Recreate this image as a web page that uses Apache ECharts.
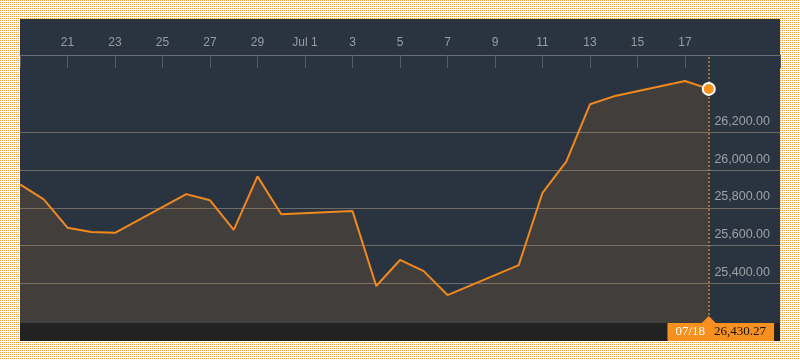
<!DOCTYPE html>
<html>
<head>
<meta charset="utf-8">
<script src="https://cdn.jsdelivr.net/npm/echarts@6/dist/echarts.min.js"></script>
<style>
  html, body { margin: 0; padding: 0; }
  body {
    width: 800px; height: 360px; overflow: hidden;
    background-color: #ffffff;
    background-image: url("data:image/svg+xml,%3Csvg xmlns='http://www.w3.org/2000/svg' width='2' height='2' shape-rendering='crispEdges'%3E%3Crect width='2' height='2' fill='%23ffffff'/%3E%3Crect x='0' y='0' width='1' height='1' fill='%23f39c3b'/%3E%3C/svg%3E");
    background-size: 2px 2px;
    background-repeat: repeat;
    image-rendering: pixelated;
  }
  #chart { width: 800px; height: 360px; }
</style>
</head>
<body>
<div id="chart"></div>
<script>
// ---- data ----
const year = 2017;
const dates = ['06/19','06/20','06/21','06/22','06/23','06/26','06/27','06/28','06/29','06/30',
               '07/03','07/04','07/05','07/06','07/07','07/10','07/11','07/12','07/13','07/14',
               '07/17','07/18'];
const values = [25925, 25845, 25695, 25672, 25668, 25873, 25840, 25683, 25967, 25766,
                25783, 25386, 25524, 25465, 25338, 25497, 25880, 26045, 26349, 26391,
                26472, 26430.27];
const tickDates = ['06/21','06/23','06/25','06/27','06/29','07/01','07/03','07/05','07/07',
                   '07/09','07/11','07/13','07/15','07/17'];
const tickLabels = ['21','23','25','27','29','Jul 1','3','5','7','9','11','13','15','17'];
const xRange = ['06/19', '07/21'];
const yTicks = [25400, 25600, 25800, 26000, 26200];
const yRange = [25190, 26610];

// ---- helpers ----
function dayIndex(s) {
  const [m, d] = s.split('/').map(Number);
  const [m0, d0] = xRange[0].split('/').map(Number);
  return Math.round((Date.UTC(year, m - 1, d) - Date.UTC(year, m0 - 1, d0)) / 86400000);
}
const xMin = dayIndex(xRange[0]);
const xMax = dayIndex(xRange[1]);
const tickX = tickDates.map(dayIndex);
const labelMap = {};
tickX.forEach((x, i) => { labelMap[x] = tickLabels[i]; });
const lastIdx = values.length - 1;
const lastX = dayIndex(dates[lastIdx]);
const lastVal = values[lastIdx];

const seriesData = dates.map((d, i) => {
  const item = { value: [dayIndex(d), values[i]] };
  if (i === lastIdx) {
    item.symbol = 'circle';
    item.symbolSize = 12;
    item.itemStyle = { color: '#f7931e', borderColor: '#ffffff', borderWidth: 2 };
  }
  return item;
});

const fmtVal = v => v.toLocaleString('en-US', { minimumFractionDigits: 2, maximumFractionDigits: 2 });

const chart = echarts.init(document.getElementById('chart'), null, { renderer: 'canvas' });
chart.setOption({
  animation: false,
  backgroundColor: 'transparent',
  graphic: [
    { type: 'rect', z: -10, silent: true, shape: { x: 20, y: 19, width: 760, height: 322 }, style: { fill: '#2a3440' } },
    { type: 'rect', z: -10, silent: true, shape: { x: 20, y: 323, width: 760, height: 18 }, style: { fill: '#222222' } }
  ],
  grid: { left: 20, right: 20, top: 55, bottom: 37, containLabel: false },
  xAxis: {
    type: 'value',
    position: 'top',
    min: xMin, max: xMax,
    axisLine: { show: true, lineStyle: { color: '#6b7077', width: 1 } },
    axisTick: {
      show: true, inside: true, length: 13,
      customValues: [xMin].concat(tickX, [xMax]),
      lineStyle: { color: '#565c63', width: 1 }
    },
    axisLabel: {
      show: true,
      customValues: tickX,
      margin: 6,
      color: '#979ca1',
      fontSize: 12,
      fontFamily: 'Liberation Sans, Arial, sans-serif',
      formatter: v => labelMap[Math.round(v)] || ''
    },
    splitLine: { show: false }
  },
  yAxis: {
    type: 'value',
    position: 'right',
    min: yRange[0], max: yRange[1],
    axisLine: { show: false },
    axisTick: { show: false, customValues: yTicks },
    axisLabel: {
      show: true, inside: true,
      customValues: yTicks,
      margin: 10,
      color: '#9da1a6',
      fontSize: 12.5,
      fontFamily: 'Liberation Sans, Arial, sans-serif',
      verticalAlign: 'bottom',
      lineHeight: 14,
      padding: [0, 0, 4, 0],
      formatter: v => fmtVal(v)
    },
    splitLine: { show: true, lineStyle: { color: '#6e6c6a', width: 1 } }
  },
  series: [{
    type: 'line',
    data: seriesData,
    symbol: 'none',
    silent: true,
    lineStyle: { color: '#f0891e', width: 2 },
    itemStyle: { color: '#f7931e' },
    areaStyle: { color: 'rgba(247,144,30,0.16)', origin: 'start' },
    z: 3,
    markLine: {
      silent: true,
      symbol: ['none', 'none'],
      label: { show: false },
      lineStyle: { color: '#b8862b', type: [2, 2], width: 1.5 },
      data: [{ xAxis: lastX }],
      z: 2
    },
    markPoint: {
      silent: true,
      data: [{
        coord: [lastX, yRange[0]],
        symbol: 'triangle',
        symbolSize: [14, 7],
        symbolOffset: [0, -3.5],
        itemStyle: { color: '#f7901e' },
        label: {
          show: true,
          position: 'bottom',
          distance: 0,
          offset: [12, 0],
          backgroundColor: '#f7901e',
          padding: [0, 8, 0, 8],
          lineHeight: 18,
          height: 18,
          fontFamily: 'Liberation Serif, serif',
          fontSize: 13,
          formatter: '{d|' + dates[lastIdx] + '}{v|' + fmtVal(lastVal) + '}',
          rich: {
            d: { color: '#ffffff', fontFamily: 'Liberation Serif, serif', fontSize: 13, padding: [0, 9, 0, 0] },
            v: { color: '#111111', fontFamily: 'Liberation Serif, serif', fontSize: 13 }
          }
        }
      }]
    }
  }]
});
</script>
</body>
</html>
